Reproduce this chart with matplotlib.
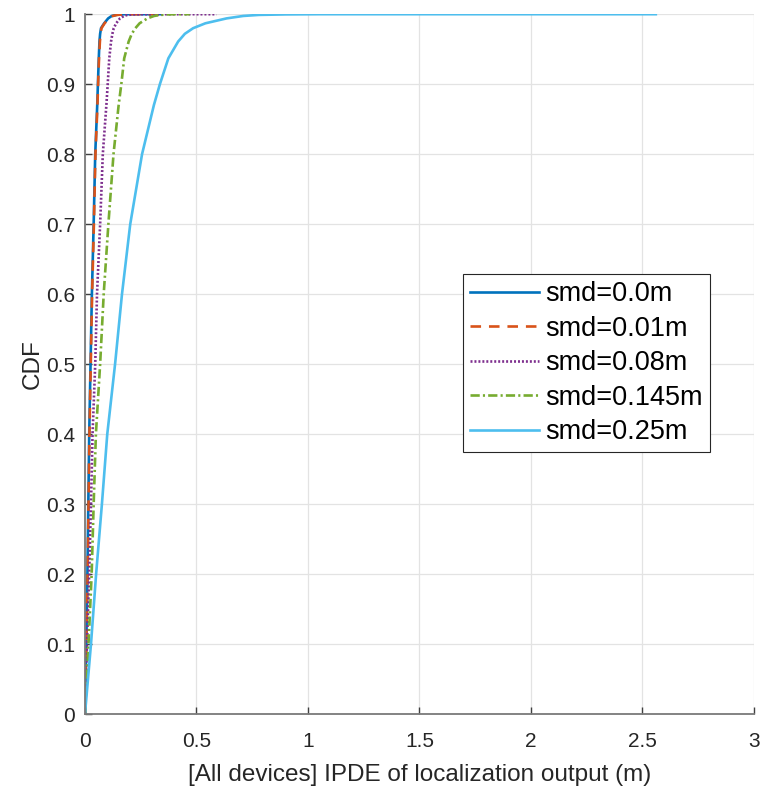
import matplotlib
matplotlib.use('Agg')
import matplotlib.pyplot as plt

plt.rcParams['font.family'] = ['Liberation Sans', 'DejaVu Sans']

cdf_levels = [0, 0.1, 0.2, 0.3, 0.4, 0.5, 0.6, 0.7, 0.8, 0.87, 0.9, 0.937,
              0.961, 0.972, 0.98, 0.987, 0.994, 0.9975, 0.999, 0.9997, 1.0, 1.0]

err_smd_000 = [0, .006, .011, .015, .019, .025, .031, .039, .046, .055, .058,
               .062, .065, .068, .072, .086, .104, .12, .14, .16, .18, .34]
err_smd_001 = [0, .006, .012, .016, .020, .026, .032, .040, .047, .056, .059,
               .063, .067, .070, .074, .088, .107, .125, .145, .17, .19, .35]
err_smd_008 = [0, .009, .019, .027, .034, .046, .054, .068, .080, .096, .102,
               .109, .117, .123, .129, .140, .157, .175, .19, .22, .26, .59]
err_smd_0145 = [0, .016, .030, .039, .049, .068, .084, .105, .128, .151, .163,
                .176, .196, .21, .226, .245, .28, .31, .34, .37, .40, .47]
err_smd_025 = [0, .027, .05, .076, .1, .135, .166, .203, .256, .309, .336,
               .374, .418, .448, .485, .54, .635, .71, .78, .90, 1.05, 2.56]

labels = ['smd=0.0m', 'smd=0.01m', 'smd=0.08m', 'smd=0.145m', 'smd=0.25m']
colors = ['#0072BD', '#D95319', '#7E2F8E', '#77AC30', '#4DBEEE']
styles = ['-', (0, (4, 3)), (0, (0.75, 0.75)), (0, (3.5, 1.2, 0.8, 1.2)), '-']

x_ticks = [0, 0.5, 1, 1.5, 2, 2.5, 3]
x_tick_labels = ['0', '0.5', '1', '1.5', '2', '2.5', '3']
y_ticks = [0, 0.1, 0.2, 0.3, 0.4, 0.5, 0.6, 0.7, 0.8, 0.9, 1]
y_tick_labels = ['0', '0.1', '0.2', '0.3', '0.4', '0.5', '0.6', '0.7', '0.8', '0.9', '1']

fig = plt.figure(figsize=(7.6, 7.89), dpi=100)
ax = fig.add_axes([0.1118, 0.095, 0.8802, 0.887])

series = [err_smd_000, err_smd_001, err_smd_008, err_smd_0145, err_smd_025]
for errs, lab, col, ls in zip(series, labels, colors, styles):
    ax.plot(errs, cdf_levels, color=col, linestyle=ls, linewidth=1.9, label=lab)

ax.set_xlim(0, 3)
ax.set_ylim(0, 1)
ax.set_xticks(x_ticks)
ax.set_xticklabels(x_tick_labels)
ax.set_yticks(y_ticks)
ax.set_yticklabels(y_tick_labels)
ax.tick_params(direction='in', length=5, width=1.0, color='#404040',
               labelsize=15, labelcolor='#262626')
ax.tick_params(axis='x', pad=13)
ax.tick_params(axis='y', pad=7)
ax.grid(True, color='#e3e3e3', linewidth=0.9)
ax.set_axisbelow(True)
for side in ['top', 'right']:
    ax.spines[side].set_visible(False)
for side in ['left', 'bottom']:
    ax.spines[side].set_color('#7a7a7a')
    ax.spines[side].set_linewidth(1.3)

ax.set_xlabel('[All devices] IPDE of localization output (m)', fontsize=17.5,
              color='#262626', labelpad=9)
ax.set_ylabel('CDF', fontsize=17.5, color='#262626', labelpad=2)

leg = ax.legend(loc='upper left', bbox_to_anchor=(0.5646, 0.6286), fontsize=19.5,
                handlelength=2.55, handletextpad=0.23, labelspacing=0.31,
                borderpad=0.27, borderaxespad=0, fancybox=False, framealpha=1)
leg.get_frame().set_edgecolor('#262626')
leg.get_frame().set_linewidth(0.8)

fig.savefig('out.png', dpi=100)
